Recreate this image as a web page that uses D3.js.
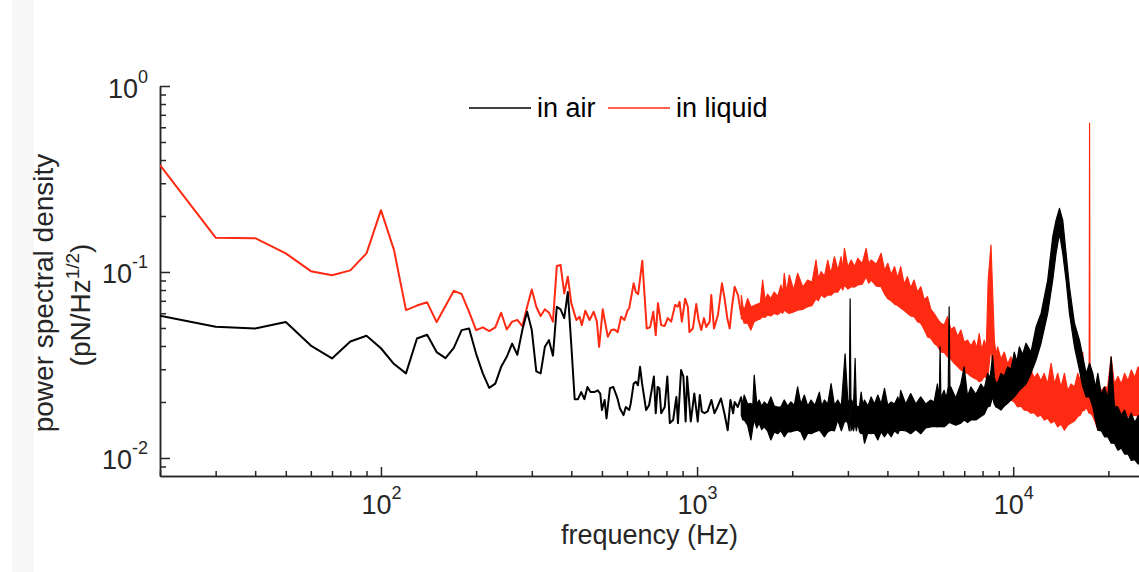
<!DOCTYPE html>
<html>
<head>
<meta charset="utf-8">
<script src="https://cdn.jsdelivr.net/npm/d3@7"></script>
<style>
  body { margin: 0; background: #fff; }
  svg { display: block; }
</style>
</head>
<body>
<svg id="chart" width="1139" height="572"></svg>
<script>
// frequency (Hz), amplitude (pN/Hz^1/2) -- single bins below ~1.4 kHz
const airLine = [[20,0.0582],[30,0.0508],[40,0.0497],[50,0.0538],[60,0.0402],[70,0.0343],[80,0.0423],[90,0.0454],[100,0.0389],[110,0.032],[120,0.0285],[130,0.0439],[140,0.046],[150,0.0371],[160,0.0344],[170,0.0391],[180,0.0487],[190,0.0497],[200,0.0363],[210,0.0285],[220,0.0238],[230,0.0251],[240,0.0309],[250,0.035],[260,0.0412],[270,0.0359],[280,0.0487],[290,0.0611],[300,0.0487],[310,0.0292],[320,0.0285],[330,0.0396],[340,0.043],[350,0.0355],[360,0.065],[370,0.063],[380,0.0565],[390,0.078],[400,0.0406],[410,0.0207],[420,0.0207],[430,0.0226],[440,0.0207],[450,0.0241],[460,0.0226],[473,0.0226],[485,0.0231],[494,0.0222],[500,0.0181],[510,0.0205],[517,0.0163],[530,0.0237],[543,0.0241],[560,0.0209],[570,0.0185],[585,0.017],[595,0.0188],[610,0.0181],[617,0.0197],[630,0.0251],[640,0.0257],[650,0.0246],[660,0.0309],[670,0.0251],[690,0.0181],[705,0.0192],[720,0.0237],[730,0.0274],[740,0.0174],[750,0.0241],[760,0.0237],[770,0.0174],[790,0.0188],[805,0.0274],[820,0.0154],[840,0.016],[860,0.0213],[870,0.0154],[890,0.0297],[905,0.0274],[920,0.0157],[930,0.0274],[955,0.0157],[980,0.0222],[1005,0.0157],[1020,0.0218],[1035,0.0178],[1055,0.0174],[1080,0.0178],[1110,0.0205],[1135,0.0174],[1160,0.0188],[1190,0.0209],[1220,0.0174],[1250,0.0141],[1275,0.0205],[1300,0.0174],[1315,0.02],[1345,0.0188],[1380,0.0213]];

const liquidLine = [[20,0.376],[30,0.153],[40,0.152],[50,0.126],[60,0.101],[70,0.096],[80,0.102],[90,0.126],[100,0.215],[110,0.131],[120,0.0624],[130,0.066],[140,0.0687],[150,0.0538],[160,0.0656],[170,0.0792],[180,0.0761],[190,0.0611],[200,0.0487],[210,0.0504],[220,0.0481],[230,0.0504],[240,0.0604],[250,0.0491],[260,0.0541],[270,0.0552],[280,0.0512],[290,0.065],[300,0.0806],[310,0.065],[320,0.058],[330,0.063],[340,0.0604],[350,0.0541],[360,0.1076],[370,0.109],[380,0.0767],[390,0.0943],[400,0.068],[415,0.0552],[425,0.0575],[432,0.0518],[443,0.0619],[457,0.0552],[471,0.0611],[482,0.0541],[490,0.0396],[503,0.063],[522,0.0448],[535,0.0487],[548,0.0491],[561,0.0475],[575,0.0575],[589,0.0552],[603,0.0624],[610,0.0638],[630,0.0869],[640,0.078],[651,0.076],[671,0.1149],[693,0.0497],[710,0.0504],[727,0.0611],[740,0.0458],[752,0.068],[770,0.0518],[789,0.0512],[808,0.0565],[828,0.0541],[852,0.0665],[869,0.065],[880,0.0691],[895,0.0541],[917,0.0718],[935,0.065],[946,0.0475],[970,0.0497],[994,0.0672],[1011,0.0552],[1031,0.0487],[1051,0.0565],[1069,0.0506],[1096,0.0541],[1109,0.0751],[1131,0.0497],[1164,0.0587],[1199,0.0869],[1222,0.0718],[1246,0.0565],[1268,0.0497],[1289,0.065],[1315,0.0833],[1347,0.0751],[1380,0.0587]];

// above ~1.4 kHz the bins are denser than pixels: [frequency, low, high] of the noise band
const airBand = [[1380,0.017,0.0213],[1395,0.016,0.0195],[1409,0.016,0.0218],[1445,0.015,0.0195],[1480,0.0125,0.0197],[1500,0.0145,0.019],[1516,0.016,0.0279],[1545,0.0145,0.0195],[1572,0.0154,0.0205],[1600,0.0142,0.019],[1631,0.0147,0.02],[1670,0.014,0.0192],[1712,0.0125,0.0213],[1755,0.0138,0.019],[1798,0.0135,0.0188],[1840,0.014,0.0188],[1887,0.013,0.0205],[1935,0.0138,0.019],[1981,0.0138,0.02],[2030,0.014,0.0192],[2080,0.0141,0.0241],[2130,0.0138,0.0195],[2184,0.0125,0.0218],[2240,0.0136,0.019],[2293,0.0135,0.0205],[2360,0.0138,0.0192],[2437,0.0141,0.0226],[2480,0.0136,0.019],[2527,0.013,0.0205],[2590,0.0138,0.0195],[2654,0.0141,0.0251],[2720,0.014,0.0192],[2786,0.016,0.0205],[2860,0.014,0.019],[2939,0.016,0.0363],[2997,0.0154,0.0205],[3030,0.014,0.0195],[3049,0.0181,0.0718],[3068,0.014,0.0195],[3086,0.0147,0.0205],[3125,0.014,0.019],[3162,0.0154,0.0343],[3190,0.014,0.0192],[3225,0.0154,0.0188],[3265,0.0138,0.019],[3304,0.0135,0.0226],[3345,0.0136,0.0192],[3385,0.012,0.0205],[3470,0.0136,0.019],[3553,0.0135,0.0213],[3640,0.0136,0.0195],[3731,0.0125,0.0218],[3820,0.0138,0.0195],[3917,0.013,0.0237],[4010,0.0138,0.0192],[4113,0.013,0.02],[4210,0.014,0.0195],[4318,0.0135,0.0213],[4360,0.014,0.0195],[4406,0.0141,0.0231],[4570,0.014,0.0195],[4740,0.0135,0.0222],[4920,0.0142,0.0195],[5098,0.0135,0.0213],[5290,0.0145,0.0195],[5484,0.0147,0.0205],[5620,0.0148,0.02],[5758,0.0147,0.025],[5840,0.0148,0.021],[5872,0.0147,0.0396],[5905,0.0148,0.021],[6046,0.0147,0.0231],[6140,0.015,0.021],[6230,0.0154,0.0241],[6271,0.0154,0.065],[6310,0.016,0.0241],[6348,0.0154,0.0241],[6580,0.015,0.021],[6828,0.0154,0.025],[6997,0.016,0.0309],[7170,0.0155,0.0215],[7345,0.016,0.0241],[7620,0.016,0.022],[7902,0.0167,0.025],[8100,0.0172,0.0235],[8296,0.0188,0.0285],[8450,0.019,0.027],[8606,0.0213,0.0355],[8710,0.0195,0.0275],[8816,0.0188,0.025],[8980,0.0185,0.026],[9146,0.0181,0.0285],[9370,0.019,0.0275],[9602,0.0197,0.0309],[9840,0.0205,0.03],[10080,0.0213,0.0371],[10270,0.0222,0.033],[10454,0.0231,0.0396],[10710,0.024,0.036],[10977,0.025,0.0414],[11385,0.0285,0.0371],[11808,0.0336,0.0506],[12249,0.0414,0.0599],[12857,0.0599,0.0905],[13336,0.0905,0.155],[13664,0.126,0.19],[14007,0.161,0.22],[14346,0.126,0.19],[14699,0.0905,0.126],[15064,0.0599,0.0833],[15623,0.0396,0.053],[16202,0.0297,0.043],[16602,0.0241,0.035],[17011,0.0213,0.0285],[17440,0.0213,0.0323],[17862,0.0188,0.0285],[18200,0.016,0.024],[18523,0.0141,0.0285],[19000,0.014,0.022],[19450,0.013,0.0241],[19900,0.013,0.021],[20418,0.012,0.035],[20900,0.012,0.019],[21440,0.011,0.0188],[21980,0.0113,0.017],[22506,0.0105,0.0181],[23080,0.0105,0.016],[23630,0.0097,0.0174],[24230,0.0098,0.0155],[24806,0.0093,0.0167],[25000,0.0093,0.017]];

const liquidBand = [[1380,0.056,0.075],[1395,0.056,0.066],[1409,0.053,0.0624],[1445,0.053,0.072],[1480,0.0487,0.065],[1515,0.054,0.066],[1553,0.0552,0.0672],[1585,0.056,0.068],[1612,0.0575,0.0905],[1640,0.057,0.071],[1671,0.0587,0.076],[1710,0.058,0.072],[1754,0.0599,0.078],[1800,0.059,0.074],[1842,0.0611,0.0851],[1865,0.06,0.077],[1887,0.0624,0.0984],[1920,0.061,0.078],[1957,0.0599,0.0963],[2020,0.061,0.08],[2080,0.0624,0.0984],[2160,0.063,0.083],[2238,0.065,0.0905],[2310,0.066,0.088],[2378,0.0718,0.1159],[2420,0.07,0.092],[2467,0.0751,0.1004],[2530,0.073,0.095],[2590,0.0751,0.1159],[2650,0.075,0.098],[2719,0.078,0.1208],[2790,0.078,0.102],[2855,0.0833,0.1208],[2890,0.08,0.104],[2925,0.0851,0.1341],[3000,0.081,0.106],[3071,0.0833,0.1159],[3150,0.083,0.107],[3225,0.0851,0.1185],[3330,0.086,0.111],[3426,0.0943,0.1341],[3490,0.087,0.111],[3553,0.0905,0.1159],[3690,0.084,0.11],[3822,0.0833,0.126],[3920,0.076,0.102],[4012,0.0718,0.1113],[4110,0.07,0.097],[4213,0.0672,0.1068],[4310,0.066,0.093],[4406,0.0641,0.1068],[4520,0.062,0.086],[4627,0.0599,0.0943],[4740,0.058,0.082],[4858,0.0575,0.0905],[4980,0.054,0.078],[5101,0.053,0.0833],[5230,0.049,0.071],[5356,0.0448,0.0736],[5490,0.044,0.063],[5620,0.0414,0.0599],[5760,0.04,0.056],[5902,0.0371,0.053],[6050,0.037,0.052],[6196,0.035,0.0575],[6350,0.034,0.049],[6507,0.0323,0.0506],[6670,0.031,0.045],[6833,0.0297,0.0487],[7000,0.029,0.042],[7170,0.0285,0.043],[7350,0.0275,0.04],[7528,0.0268,0.043],[7670,0.0265,0.039],[7806,0.0257,0.0467],[7950,0.026,0.038],[8096,0.0274,0.043],[8220,0.027,0.039],[8335,0.0285,0.0905],[8506,0.0396,0.1396],[8716,0.025,0.043],[8820,0.024,0.036],[8930,0.0222,0.0396],[9150,0.0225,0.034],[9373,0.0213,0.0371],[9600,0.021,0.032],[9841,0.0205,0.035],[10080,0.02,0.03],[10324,0.0188,0.0309],[10580,0.019,0.029],[10837,0.0181,0.0323],[11100,0.018,0.028],[11375,0.0174,0.0297],[11650,0.0175,0.027],[11940,0.0167,0.0285],[12230,0.017,0.026],[12534,0.016,0.0285],[12850,0.0163,0.025],[13177,0.0154,0.0323],[13500,0.0158,0.025],[13832,0.0147,0.0285],[14170,0.0152,0.024],[14520,0.0141,0.0285],[14880,0.015,0.023],[15241,0.0154,0.025],[15620,0.0158,0.024],[16000,0.0167,0.0285],[16300,0.017,0.026],[16594,0.0181,0.0371],[16800,0.018,0.027],[17000,0.0188,0.0285],[17390,0.0174,0.0285],[17440,0.0174,0.631],[17490,0.0174,0.0285],[17680,0.0172,0.025],[17870,0.0167,0.025],[18200,0.0155,0.023],[18530,0.0141,0.0231],[19000,0.015,0.023],[19440,0.0147,0.0241],[19900,0.0155,0.024],[20400,0.0154,0.035],[20900,0.016,0.025],[21440,0.016,0.0274],[21980,0.0163,0.025],[22510,0.016,0.0285],[23080,0.0168,0.026],[23640,0.0167,0.0297],[24230,0.017,0.027],[24820,0.0167,0.0309],[25000,0.0167,0.03]];

const xMajor = [100, 1000, 10000];
const xMinor = [20, 30, 40, 50, 60, 70, 80, 90, 200, 300, 400, 500, 600, 700, 800, 900,
                2000, 3000, 4000, 5000, 6000, 7000, 8000, 9000, 20000];
const yMajor = [0.01, 0.1, 1];
const yMinor = [0.009, 0.02, 0.03, 0.04, 0.05, 0.06, 0.07, 0.08, 0.09,
                0.2, 0.3, 0.4, 0.5, 0.6, 0.7, 0.8, 0.9];

const series = [
  {name: "in liquid", color: "#ff2a12", line: liquidLine, band: liquidBand},
  {name: "in air", color: "#000000", line: airLine, band: airBand}
];

var width = 1139, height = 572,
    plot = {l: 160, r: 1139, t: 86, b: 476},
    font = "'Liberation Sans', Arial, Helvetica, sans-serif",
    axisColor = "#262626";

var svg = d3.select("#chart").attr("font-family", font);

svg.append("rect").attr("width", width).attr("height", height).attr("fill", "#fff");
svg.append("rect").attr("x", 12).attr("width", 22).attr("height", height).attr("fill", "#f7f7f7");

var x = d3.scaleLog().domain([20, 25000]).range([plot.l, plot.r]);
var y = d3.scaleLog().domain([0.008, 1]).range([plot.b, plot.t]);

// "10" with the exponent raised
function powerLabel(sel) {
  sel.each(function(d) {
    var t = d3.select(this).text(null);
    t.append("tspan").text("10");
    t.append("tspan").attr("dy", -15).attr("font-size", 18)
      .text(Math.round(Math.log10(d)));
  });
}

function styleAxis(g) {
  g.attr("font-family", font).attr("font-size", 27).style("color", axisColor);
  g.selectAll("line, path").attr("stroke-width", 1.5);
}

// x axis
svg.append("g").attr("transform", "translate(0," + plot.b + ")")
  .call(d3.axisBottom(x).tickValues(xMinor).tickSize(-5).tickSizeOuter(0).tickFormat(""))
  .call(styleAxis);
svg.append("g").attr("transform", "translate(0," + plot.b + ")")
  .call(d3.axisBottom(x).tickValues(xMajor).tickSize(-9).tickSizeOuter(0))
  .call(styleAxis)
  .call(g => g.selectAll(".tick text").attr("y", 38).attr("dy", null).call(powerLabel));

// y axis
svg.append("g").attr("transform", "translate(" + plot.l + ",0)")
  .call(d3.axisLeft(y).tickValues(yMinor).tickSize(-6).tickSizeOuter(0).tickFormat(""))
  .call(styleAxis);
svg.append("g").attr("transform", "translate(" + plot.l + ",0)")
  .call(d3.axisLeft(y).tickValues(yMajor).tickSize(-10).tickSizeOuter(0).tickPadding(12))
  .call(styleAxis)
  .call(g => g.selectAll(".tick text").attr("y", 11).attr("dy", null).call(powerLabel));

// axis titles
svg.append("text")
  .attr("x", (plot.l + plot.r) / 2).attr("y", 544)
  .attr("text-anchor", "middle").attr("font-size", 27).attr("fill", axisColor)
  .text("frequency (Hz)");

svg.append("text")
  .attr("transform", "translate(53,293) rotate(-90)")
  .attr("text-anchor", "middle").attr("font-size", 28).attr("fill", axisColor)
  .text("power spectral density");

var unit = svg.append("text")
  .attr("transform", "translate(90,305) rotate(-90)")
  .attr("text-anchor", "middle").attr("font-size", 28).attr("fill", axisColor);
unit.append("tspan").text("(pN/Hz");
unit.append("tspan").attr("dy", -11).attr("font-size", 19).text("1/2");
unit.append("tspan").attr("dy", 11).text(")");

// data
svg.append("clipPath").attr("id", "clip")
  .append("rect").attr("x", plot.l).attr("y", 70)
  .attr("width", plot.r - plot.l).attr("height", plot.b - 70);

var line = d3.line().x(d => x(d[0])).y(d => y(d[1]));
var band = d3.area().x(d => x(d[0])).y0(d => y(d[1])).y1(d => y(d[2]));

var plotG = svg.append("g").attr("clip-path", "url(#clip)");

series.forEach(function(s) {
  plotG.append("path").datum(s.band)
    .attr("d", band)
    .attr("fill", s.color)
    .attr("stroke", s.color)
    .attr("stroke-width", 1.2)
    .attr("stroke-linejoin", "round");
  plotG.append("path").datum(s.line)
    .attr("d", line)
    .attr("fill", "none")
    .attr("stroke", s.color)
    .attr("stroke-width", 2)
    .attr("stroke-linejoin", "round");
});

// legend
var legend = svg.append("g").attr("font-size", 27);
[{name: "in air", color: "#000000", x0: 469}, {name: "in liquid", color: "#ff2a12", x0: 608}]
  .forEach(function(d) {
    legend.append("line")
      .attr("x1", d.x0).attr("x2", d.x0 + 62).attr("y1", 108).attr("y2", 108)
      .attr("stroke", d.color).attr("stroke-width", 1.5);
    legend.append("text")
      .attr("x", d.x0 + 68).attr("y", 117).attr("fill", "#000")
      .text(d.name);
  });
</script>
</body>
</html>
